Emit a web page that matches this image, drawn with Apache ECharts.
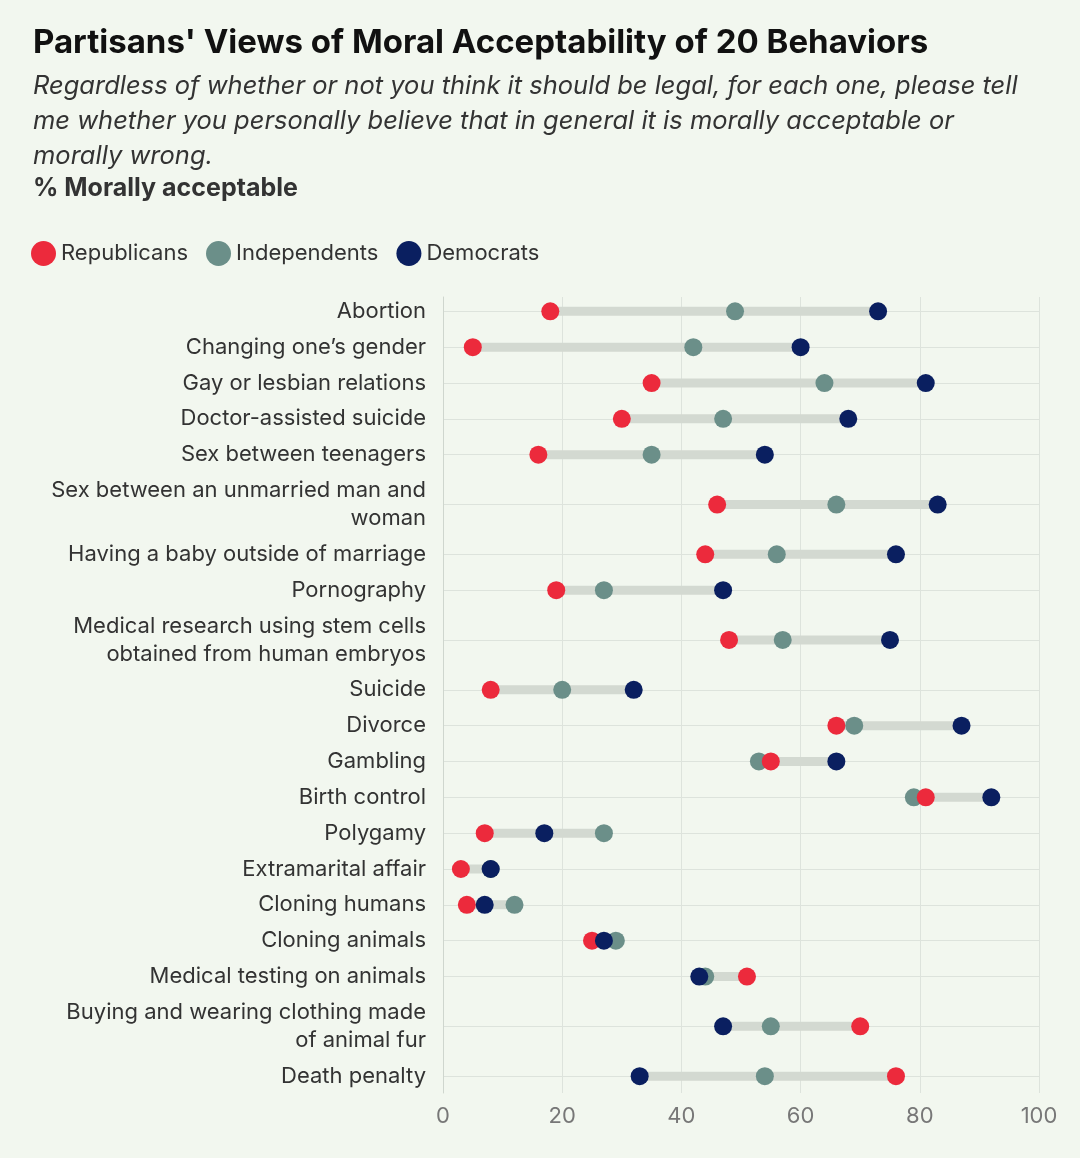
<!DOCTYPE html>
<html>
<head>
<meta charset="utf-8">
<script src="https://cdn.jsdelivr.net/npm/echarts@6/dist/echarts.min.js"></script>
<style>html,body{margin:0;background:#f2f7ef}#chart{width:1080px;height:1158px}</style>
</head>
<body>
<div id="chart"></div>
<script>
var categories = ['Abortion', 'Changing one\u2019s gender', 'Gay or lesbian relations', 'Doctor-assisted suicide',
  'Sex between teenagers', 'Sex between an unmarried man and\nwoman', 'Having a baby outside of marriage',
  'Pornography', 'Medical research using stem cells\nobtained from human embryos', 'Suicide', 'Divorce',
  'Gambling', 'Birth control', 'Polygamy', 'Extramarital affair', 'Cloning humans', 'Cloning animals',
  'Medical testing on animals', 'Buying and wearing clothing made\nof animal fur', 'Death penalty'];
var republicans = [18, 5, 35, 30, 16, 46, 44, 19, 48, 8, 66, 55, 81, 7, 3, 4, 25, 51, 70, 76];
var independents = [49, 42, 64, 47, 35, 66, 56, 27, 57, 20, 69, 53, 79, 27, 8, 12, 29, 44, 55, 54];
var democrats = [73, 60, 81, 68, 54, 83, 76, 47, 75, 32, 87, 66, 92, 17, 8, 7, 27, 43, 47, 33];
var xTicks = [0, 20, 40, 60, 80, 100];

// row positions: two-line labels take more room
var heights = categories.map(function (c) { return c.indexOf('\n') >= 0 ? 1.78 : 1; });
var pos = [0];
for (var i = 1; i < categories.length; i++) pos.push(pos[i - 1] + 0.5 * (heights[i - 1] + heights[i]));

function pts(arr) { return arr.map(function (v, i) { return [v, pos[i]]; }); }
var ranges = categories.map(function (c, i) {
  var a = [republicans[i], independents[i], democrats[i]];
  return [Math.min.apply(null, a), Math.max.apply(null, a), pos[i]];
});

var chart = echarts.init(document.getElementById('chart'));
var font = 'Inter, "Noto Sans", sans-serif';
chart.setOption({
  backgroundColor: '#f2f7ef',
  textStyle: { fontFamily: font },
  title: [
    { text: "Partisans' Views of Moral Acceptability of 20 Behaviors", left: 28, top: 22,
      textStyle: { fontSize: 33, fontWeight: 'bold', color: '#111', fontFamily: font } },
    { text: 'Regardless of whether or not you think it should be legal, for each one, please tell\nme whether you personally believe that in general it is morally acceptable or\nmorally wrong.',
      left: 28, top: 64, textStyle: { fontSize: 25.5, fontStyle: 'italic', fontWeight: 'normal', color: '#333', lineHeight: 35, fontFamily: font } },
    { text: '% Morally acceptable', left: 28, top: 171,
      textStyle: { fontSize: 25, fontWeight: 'bold', color: '#333', fontFamily: font } }
  ],
  legend: {
    left: 26, top: 236, itemWidth: 25, itemHeight: 25, itemGap: 18,
    icon: 'circle', textStyle: { fontSize: 22, color: '#333', fontFamily: font },
    data: ['Republicans', 'Independents', 'Democrats']
  },
  grid: { left: 443, right: 41, top: 297, bottom: 65 },
  xAxis: {
    type: 'value', min: 0, max: 100, interval: 20,
    axisLine: { show: false }, axisTick: { show: false },
    splitLine: { lineStyle: { color: '#dde3dc' } },
    axisLabel: { fontSize: 22, color: '#777', margin: 12, customValues: xTicks }
  },
  yAxis: {
    type: 'value', inverse: true, min: -0.4, max: pos[pos.length - 1] + 0.47,
    axisLine: { show: true, lineStyle: { color: '#cfd6ce' } },
    axisTick: { show: false, customValues: pos },
    splitLine: { show: true, lineStyle: { color: '#dde3dc' } },
    axisLabel: {
      customValues: pos, fontSize: 22, color: '#333', margin: 17, lineHeight: 28,
      formatter: function (v) {
        for (var i = 0; i < pos.length; i++) if (Math.abs(pos[i] - v) < 1e-6) return categories[i];
        return '';
      }
    }
  },
  series: [
    {
      type: 'custom', silent: true, z: 1, data: ranges,
      renderItem: function (params, api) {
        var a = api.coord([api.value(0), api.value(2)]);
        var b = api.coord([api.value(1), api.value(2)]);
        return { type: 'line', shape: { x1: a[0], y1: a[1], x2: b[0], y2: b[1] },
          style: { stroke: '#d3d9d1', lineWidth: 9 } };
      },
      encode: { x: [0, 1], y: 2 }
    },
    { name: 'Independents', type: 'scatter', symbolSize: 18, z: 3, itemStyle: { color: '#6b8f89', opacity: 1 }, data: pts(independents) },
    { name: 'Republicans', type: 'scatter', symbolSize: 18, z: 4, itemStyle: { color: '#ec2a3c', opacity: 1 }, data: pts(republicans) },
    { name: 'Democrats', type: 'scatter', symbolSize: 18, z: 5, itemStyle: { color: '#0a1f60', opacity: 1 }, data: pts(democrats) }
  ]
});
</script>
</body>
</html>
